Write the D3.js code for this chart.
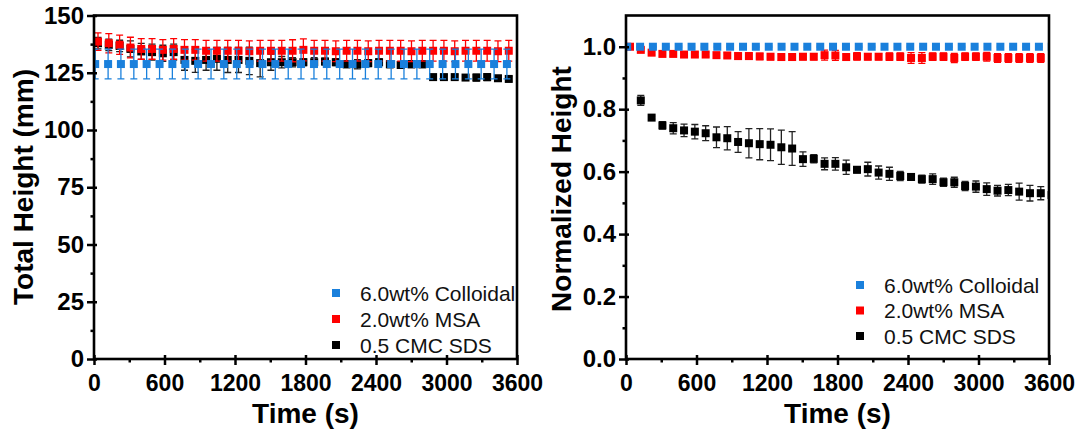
<!DOCTYPE html>
<html>
<head>
<meta charset="utf-8">
<script src="https://cdn.jsdelivr.net/npm/d3@7"></script>
<style>
  html, body { margin: 0; padding: 0; background: #fff; }
  svg { display: block; font-family: Arial, "Liberation Sans", sans-serif; }
</style>
</head>
<body>
<svg id="chart" width="1080" height="438"></svg>
<script>
// sample times (s)
const blueTimes = [10,120,229,339,448,558,667,777,886,996,1105,1215,1324,1434,1543,1653,1762,1872,1981,2091,2200,2310,2419,2529,2638,2748,2857,2967,3076,3186,3295,3405,3514,3624];
const mixTimes = [34,126,218,310,402,494,586,678,770,862,954,1046,1138,1230,1322,1414,1506,1598,1690,1782,1874,1966,2058,2150,2242,2334,2426,2518,2610,2702,2794,2886,2978,3070,3162,3254,3346,3438,3530];
const sdsNormTimes = [126,218,310,402,494,586,678,770,862,954,1046,1138,1230,1322,1414,1506,1598,1690,1782,1874,1966,2058,2150,2242,2334,2426,2518,2610,2702,2794,2886,2978,3070,3162,3254,3346,3438,3530,3622];

const seriesNames = ["6.0wt% Colloidal", "2.0wt% MSA", "0.5 CMC SDS"];
const seriesColors = ["#1a80dc", "#ff0000", "#000000"];
const barColors = ["#1a80dc", "#ff0000", "#222222"];

// left panel: total height (mm)
const leftBlue = [128.8,128.8,128.8,128.8,128.8,128.8,128.8,128.8,128.8,128.8,128.8,128.8,128.8,128.8,128.8,128.8,128.8,128.8,128.8,128.8,128.8,128.8,128.8,128.8,128.8,128.8,128.8,128.8,128.8,128.8,128.8,128.8,128.8,128.8];
const leftBlueErr = [6.5,6.5,6.5,6.5,6.5,6.5,6.5,6.5,6.5,6.5,6.5,6.5,6.5,6.5,6.5,6.5,6.5,6.5,6.5,6.5,6.5,6.5,6.5,6.5,6.5,6.5,6.5,6.5,6.5,6.5,6.5,6.5,6.5,6.5];
const leftRed = [138.6,137.9,137.2,136.0,135.4,135.4,135.0,135.4,135.0,135.0,134.6,134.6,134.6,134.6,134.4,134.6,134.6,134.6,134.6,135.0,134.6,134.6,134.4,134.6,134.6,134.4,134.6,134.6,134.6,134.4,134.6,134.6,134.6,134.4,134.6,134.6,134.6,134.4,134.6];
const leftRedErr = [3.8,4.2,4.2,4.5,4.5,4.5,4.5,4.5,4.5,4.5,4.5,4.5,4.5,4.5,4.5,4.5,4.5,4.5,4.8,4.8,4.5,4.5,4.5,4.5,4.5,4.5,4.5,4.5,4.5,4.5,4.5,4.5,4.5,4.5,4.5,4.5,4.5,4.5,4.5];
const leftBlack = [137.9,137.2,136.7,135.4,134.3,134.0,133.5,134.0,130.6,130.2,130.6,131.1,130.6,130.6,130.2,129.2,129.6,129.6,129.6,129.6,129.6,129.9,129.6,128.7,128.7,129.2,129.6,128.7,128.4,128.7,128.7,123.1,123.1,123.1,122.9,122.9,123.1,122.6,122.3];
const leftBlackErr = [2.5,2.5,2.5,3.5,3.5,3.5,3.5,3.5,4.5,5.0,4.5,5.0,5.5,5.5,6.0,6.0,3.5,2.5,2.0,1.5,2.0,1.5,1.5,1.5,2.0,1.5,1.5,1.5,1.5,1.5,1.5,1.0,1.0,1.0,1.0,1.5,1.5,1.0,1.0];

// right panel: normalized height
const rightBlue = [1,1,1,1,1,1,1,1,1,1,1,1,1,1,1,1,1,1,1,1,1,1,1,1,1,1,1,1,1,1,1,1,1,1];
const rightBlueErr = [0.002,0.002,0.002,0.002,0.002,0.002,0.002,0.002,0.002,0.002,0.002,0.002,0.002,0.002,0.002,0.002,0.002,0.002,0.002,0.002,0.002,0.002,0.002,0.002,0.002,0.002,0.002,0.002,0.002,0.002,0.002,0.002,0.002,0.002];
const rightRed = [1.0,0.990,0.981,0.977,0.977,0.975,0.975,0.975,0.973,0.972,0.970,0.970,0.969,0.968,0.967,0.967,0.968,0.968,0.973,0.972,0.967,0.969,0.968,0.968,0.968,0.968,0.964,0.964,0.968,0.968,0.964,0.968,0.968,0.968,0.964,0.964,0.964,0.964,0.964];
const rightRedErr = [0.004,0.006,0.007,0.007,0.007,0.007,0.007,0.007,0.008,0.008,0.010,0.010,0.010,0.010,0.010,0.010,0.010,0.010,0.016,0.016,0.010,0.012,0.010,0.010,0.012,0.012,0.017,0.017,0.012,0.012,0.015,0.012,0.012,0.014,0.014,0.014,0.014,0.014,0.014];
const rightBlack = [0.828,0.773,0.748,0.739,0.732,0.728,0.723,0.710,0.707,0.695,0.691,0.688,0.686,0.678,0.674,0.640,0.641,0.625,0.625,0.614,0.606,0.608,0.597,0.593,0.586,0.583,0.576,0.576,0.566,0.566,0.554,0.552,0.544,0.539,0.541,0.536,0.531,0.531,0.525];
const rightBlackErr = [0.016,0.005,0.012,0.018,0.020,0.023,0.024,0.033,0.037,0.033,0.047,0.050,0.051,0.055,0.054,0.023,0.013,0.019,0.020,0.023,0.010,0.022,0.021,0.021,0.015,0.010,0.013,0.017,0.013,0.016,0.015,0.018,0.020,0.017,0.018,0.027,0.025,0.021,0.020];

const xTicks = [0,600,1200,1800,2400,3000,3600];
const xMinor = [300,900,1500,2100,2700,3300];
const leftYTicks = [0,25,50,75,100,125,150];
const leftYMinor = [12.5,37.5,62.5,87.5,112.5,137.5];
const rightYTicks = [0,0.2,0.4,0.6,0.8,1.0];
const rightYMinor = [0.1,0.3,0.5,0.7,0.9];

const svg = d3.select("#chart");
const plotTop = 15.5, plotBottom = 359;

function panel(id, x0, x1, yDomain, yTicks, yMinor, yFmt, yTitle, yTitleX, yTitleY, series, legend) {
  const x = d3.scaleLinear().domain([0, 3600]).range([x0, x1]);
  const y = d3.scaleLinear().domain(yDomain).range([plotBottom, plotTop]);
  const g = svg.append("g");

  svg.append("clipPath").attr("id", id).append("rect")
    .attr("x", x0).attr("y", plotTop).attr("width", x1 - x0).attr("height", plotBottom - plotTop);
  const plot = g.append("g").attr("clip-path", `url(#${id})`);

  // black first, then red, then blue on top
  [2, 1, 0].forEach(i => {
    const s = series[i];
    const pts = s.t.map((t, j) => ({ t, v: s.v[j], e: s.e[j] }));
    const sg = plot.append("g");
    sg.selectAll("path.bar").data(pts).enter().append("path")
      .attr("class", "bar")
      .attr("d", d => {
        const cx = x(d.t), ya = y(d.v + d.e), yb = y(d.v - d.e), w = 3.5;
        return `M${cx},${ya}V${yb}M${cx - w},${ya}H${cx + w}M${cx - w},${yb}H${cx + w}`;
      })
      .attr("fill", "none").attr("stroke", barColors[i]).attr("stroke-width", 1.3);
    sg.selectAll("rect.pt").data(pts).enter().append("rect")
      .attr("class", "pt")
      .attr("x", d => x(d.t) - 4).attr("y", d => y(d.v) - 4)
      .attr("width", 8).attr("height", 8)
      .attr("fill", seriesColors[i]);
  });

  // x axis
  const xa = g.append("g").attr("transform", `translate(0,${plotBottom})`)
    .call(d3.axisBottom(x).tickValues(xTicks).tickSize(6).tickPadding(10).tickFormat(d3.format("d")));
  xa.selectAll(".tick line").attr("y1", -4).attr("stroke-width", 2.5);
  xa.selectAll(".tick text").attr("font-size", 23).attr("font-weight", "bold").attr("fill", "#000")
    .attr("font-family", "Arial, 'Liberation Sans', sans-serif");
  const xm = g.append("g").attr("transform", `translate(0,${plotBottom})`)
    .call(d3.axisBottom(x).tickValues(xMinor).tickSize(3.5).tickFormat(""));
  xm.selectAll(".tick line").attr("stroke-width", 2.5);
  [xa, xm].forEach(a => a.select(".domain").remove());

  // y axis
  const ya = g.append("g").attr("transform", `translate(${x0},0)`)
    .call(d3.axisLeft(y).tickValues(yTicks).tickSize(7).tickPadding(3).tickFormat(yFmt));
  ya.selectAll(".tick line").attr("x1", 3).attr("stroke-width", 2.5);
  ya.selectAll(".tick text").attr("font-size", 24).attr("font-weight", "bold").attr("fill", "#000")
    .attr("font-family", "Arial, 'Liberation Sans', sans-serif");
  const ym = g.append("g").attr("transform", `translate(${x0},0)`)
    .call(d3.axisLeft(y).tickValues(yMinor).tickSize(3.5).tickFormat(""));
  ym.selectAll(".tick line").attr("stroke-width", 2.5);
  [ya, ym].forEach(a => a.select(".domain").remove());

  // frame
  g.append("rect").attr("x", x0).attr("y", plotTop).attr("width", x1 - x0).attr("height", plotBottom - plotTop)
    .attr("fill", "none").attr("stroke", "#000").attr("stroke-width", 2.6);

  // titles
  g.append("text").attr("x", (x0 + x1) / 2).attr("y", 423).attr("text-anchor", "middle")
    .attr("font-size", 28).attr("font-weight", "bold").text("Time (s)");
  g.append("text").attr("transform", `translate(${yTitleX},${yTitleY}) rotate(-90)`)
    .attr("text-anchor", "middle").attr("font-size", 28).attr("font-weight", "bold").text(yTitle);

  // legend
  const lg = g.append("g");
  seriesNames.forEach((name, i) => {
    const cy = legend.y[i];
    lg.append("rect").attr("x", legend.sx - 4).attr("y", cy - 4).attr("width", 8).attr("height", 8)
      .attr("fill", seriesColors[i]);
    lg.append("text").attr("x", legend.tx).attr("y", cy).attr("dy", "0.36em")
      .attr("font-size", 21).attr("fill", "#111").text(name);
  });
}

panel("clipL", 94, 517, [0, 150], leftYTicks, leftYMinor, d3.format("d"), "Total Height (mm)", 33, 187,
  [
    { t: blueTimes, v: leftBlue, e: leftBlueErr },
    { t: mixTimes, v: leftRed, e: leftRedErr },
    { t: mixTimes, v: leftBlack, e: leftBlackErr }
  ],
  { sx: 336, tx: 360, y: [293, 319, 345] });

panel("clipR", 626, 1049, [0, 1.1], rightYTicks, rightYMinor, d3.format(".1f"), "Normalized Height", 571, 189,
  [
    { t: blueTimes, v: rightBlue, e: rightBlueErr },
    { t: mixTimes, v: rightRed, e: rightRedErr },
    { t: sdsNormTimes, v: rightBlack, e: rightBlackErr }
  ],
  { sx: 860, tx: 884, y: [285, 310.5, 336] });
</script>
</body>
</html>
